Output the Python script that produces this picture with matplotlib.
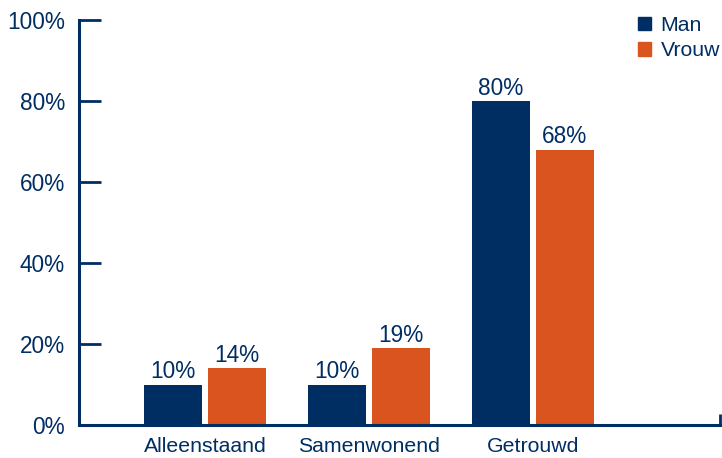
import matplotlib
matplotlib.use("Agg")
import matplotlib.pyplot as plt
import matplotlib.patches as mpatches
import numpy as np

plt.rcParams["font.family"] = ["Liberation Sans", "DejaVu Sans"]

categories = ["Alleenstaand", "Samenwonend", "Getrouwd"]
man = [10, 10, 80]
vrouw = [14, 19, 68]
series_names = ["Man", "Vrouw"]

NAVY = "#002d62"
ORANGE = "#d9541e"
FS_NUM = 16.3   # bar values and y tick labels
FS_TXT = 15.3   # category labels and legend

fig = plt.figure(figsize=(7.22, 4.58), dpi=100)
ax = fig.add_axes([79 / 722, 33 / 458, 641 / 722, 405 / 458])

x = np.arange(len(categories))
w = 0.354
off = 0.195
b1 = ax.bar(x - off, man, width=w, color=NAVY)
b2 = ax.bar(x + off, vrouw, width=w, color=ORANGE)

for bars, vals in ((b1, man), (b2, vrouw)):
    for r, v in zip(bars, vals):
        ax.text(r.get_x() + r.get_width() / 2, v + 0.3, f"{v}%",
                ha="center", va="bottom", fontsize=FS_NUM, color=NAVY)

ax.set_ylim(0, 100)
ax.set_xlim(-0.768, 3.14)
ax.set_yticks(range(0, 101, 20))
ax.set_yticklabels([f"{t}%" for t in range(0, 101, 20)])
ax.set_xticks(x)
ax.set_xticklabels(categories)
ax.set_xticks([3.14], minor=True)

ax.tick_params(axis="y", direction="in", length=16, width=2, color=NAVY,
               labelcolor=NAVY, labelsize=FS_NUM, pad=10)
ax.tick_params(axis="x", which="major", length=0, labelcolor=NAVY,
               labelsize=FS_TXT, pad=9)
ax.tick_params(axis="x", which="minor", direction="in", length=8, width=2,
               color=NAVY)

for s in ("top", "right"):
    ax.spines[s].set_visible(False)
for s in ("left", "bottom"):
    ax.spines[s].set_color(NAVY)
    ax.spines[s].set_linewidth(2.2)

handles = [mpatches.Patch(color=NAVY, label=series_names[0]),
           mpatches.Patch(color=ORANGE, label=series_names[1])]
leg = ax.legend(handles=handles, loc="upper right", bbox_to_anchor=(1.0, 1.01),
                frameon=False, fontsize=FS_TXT, handlelength=0.62,
                handleheight=0.62, handletextpad=0.45, labelspacing=0.3,
                borderaxespad=0.0, borderpad=0.0)
for t in leg.get_texts():
    t.set_color(NAVY)

fig.savefig("out.png", dpi=100)
